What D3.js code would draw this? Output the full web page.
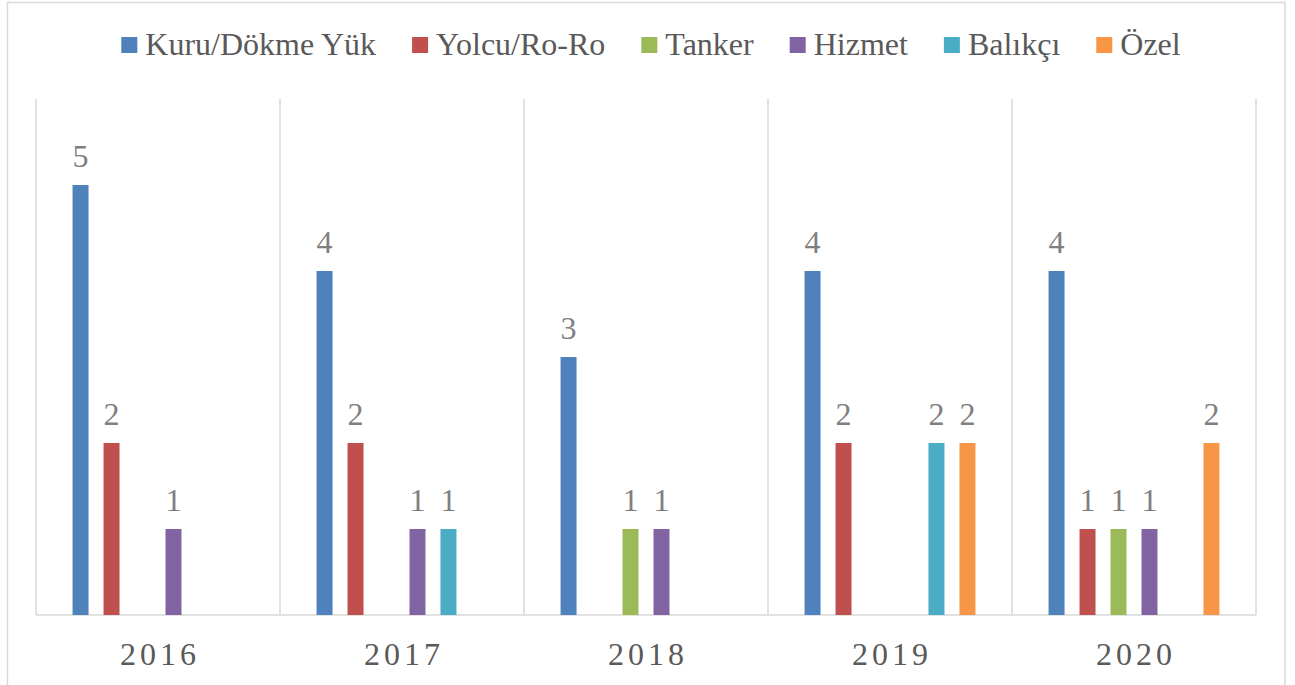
<!DOCTYPE html>
<html>
<head>
<meta charset="utf-8">
<script src="https://cdn.jsdelivr.net/npm/d3@7"></script>
</head>
<body style="margin:0">
<script>
// data
const years = ["2016", "2017", "2018", "2019", "2020"];
const seriesNames = ["Kuru/Dökme Yük", "Yolcu/Ro-Ro", "Tanker", "Hizmet", "Balıkçı", "Özel"];
const seriesColors = ["#4F81BD", "#C0504D", "#9BBB59", "#8064A2", "#4BACC6", "#F79646"];
const kuru    = [5, 4, 3, 4, 4];
const yolcu   = [2, 2, 0, 2, 1];
const tanker  = [0, 0, 1, 0, 1];
const hizmet  = [1, 1, 1, 0, 1];
const balikci = [0, 1, 0, 2, 0];
const ozel    = [0, 0, 0, 2, 2];
const seriesValues = [kuru, yolcu, tanker, hizmet, balikci, ozel];

const W = 1295, H = 685;
const plot = {left: 36, right: 1256, top: 99, bottom: 615};
const FONT = "'Liberation Serif', Tinos, 'Times New Roman', FreeSerif, serif";

const svg = d3.select("body")
  .append("svg")
    .attr("width", W)
    .attr("height", H);

// outer border
svg.append("rect")
  .attr("x", 7.5).attr("y", 2.5)
  .attr("width", 1285 - 7.5).attr("height", H + 10)
  .attr("fill", "none")
  .attr("stroke", "#d9d9d9")
  .attr("stroke-width", 1.5);

const x0 = d3.scaleBand()
  .domain(years)
  .range([plot.left, plot.right])
  .padding(0);

const x1 = d3.scaleBand()
  .domain(seriesNames)
  .range([0, x0.bandwidth()])
  .paddingInner(0.484)
  .paddingOuter(1.18);

const y = d3.scaleLinear()
  .domain([0, 6])
  .range([plot.bottom, plot.top]);

// vertical separators
const gridX = years.map(d => x0(d)).concat([plot.right]);
svg.append("g")
  .selectAll("line")
  .data(gridX)
  .join("line")
    .attr("x1", d => d).attr("x2", d => d)
    .attr("y1", plot.top).attr("y2", plot.bottom)
    .attr("stroke", "#d9d9d9")
    .attr("stroke-width", 1.5);

// baseline
svg.append("line")
  .attr("x1", plot.left).attr("x2", plot.right)
  .attr("y1", plot.bottom).attr("y2", plot.bottom)
  .attr("stroke", "#d9d9d9")
  .attr("stroke-width", 1.5);

// bars
const flat = [];
seriesNames.forEach((s, i) => {
  years.forEach((yr, j) => {
    flat.push({series: s, year: yr, value: seriesValues[i][j], color: seriesColors[i]});
  });
});
const shown = flat.filter(d => d.value > 0);

svg.append("g")
  .selectAll("rect")
  .data(shown)
  .join("rect")
    .attr("x", d => x0(d.year) + x1(d.series))
    .attr("y", d => y(d.value))
    .attr("width", x1.bandwidth())
    .attr("height", d => y(0) - y(d.value))
    .attr("fill", d => d.color);

// data labels
svg.append("g")
  .selectAll("text")
  .data(shown)
  .join("text")
    .attr("x", d => x0(d.year) + x1(d.series) + x1.bandwidth() / 2)
    .attr("y", d => y(d.value) - 18)
    .attr("text-anchor", "middle")
    .attr("font-family", FONT)
    .style("font-family", FONT, "important")
    .style("font-size", "32px")
    .attr("fill", "#7f7f7f")
    .text(d => d.value);

// x axis labels
svg.append("g")
  .selectAll("text")
  .data(years)
  .join("text")
    .attr("x", d => x0(d) + x0.bandwidth() / 2 + 2)
    .attr("y", 665)
    .attr("text-anchor", "middle")
    .attr("font-family", FONT)
    .style("font-family", FONT, "important")
    .style("font-size", "32px")
    .style("letter-spacing", "4px")
    .attr("fill", "#595959")
    .text(d => d);

// legend
const legend = svg.append("g");
let lx = 0;
seriesNames.forEach((s, i) => {
  const g = legend.append("g").attr("transform", `translate(${lx},0)`);
  g.append("rect")
    .attr("x", 0).attr("y", 37)
    .attr("width", 16).attr("height", 16)
    .attr("fill", seriesColors[i]);
  const t = g.append("text")
    .attr("x", 24).attr("y", 55)
    .attr("font-family", FONT)
    .style("font-family", FONT, "important")
    .style("font-size", "32px")
    .attr("fill", "#595959")
    .text(s);
  lx += 24 + t.node().getComputedTextLength() + 36;
});
const legendW = lx - 36;
legend.attr("transform", `translate(${(7 + 1285) / 2 - legendW / 2 + 5},0)`);
</script>
</body>
</html>
